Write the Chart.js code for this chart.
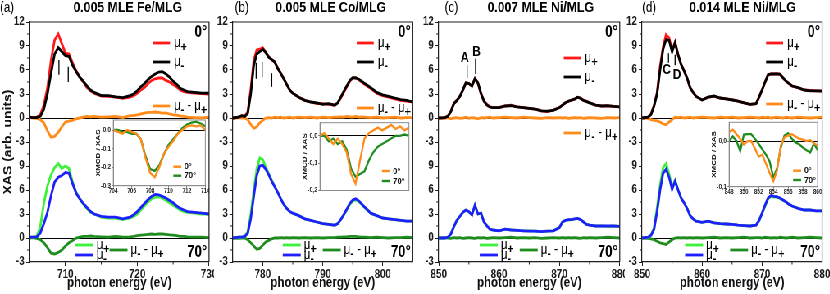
<!DOCTYPE html>
<html>
<head>
<meta charset="utf-8">
<script src="https://cdn.jsdelivr.net/npm/chart.js@4.4.0/dist/chart.umd.min.js"></script>
<style>
  html, body { margin: 0; padding: 0; background: #fff; width: 830px; height: 294px; overflow: hidden; }
  #wrap { position: absolute; left: 0; top: 0; height: 294px; transform-origin: 0 0; }
  #wrap canvas { position: absolute; }
</style>
</head>
<body>
<div id="wrap"></div>
<script>
// ---- data ----
const panelTags = ["(a)", "(b)", "(c)", "(d)"];
const panelTitles = ["0.005 MLE Fe/MLG", "0.005 MLE Co/MLG", "0.007 MLE Ni/MLG", "0.014 MLE Ni/MLG"];
const angleLabels = ["0°", "70°"];
const yTitle = "XAS (arb. units)";
const xTitle = "photon energy (eV)";
const insetTitle = "XMCD / XAS";

// (a) Fe L-edge
const eA = [705,705.5,706,706.5,707,707.5,708,708.5,709,709.5,710,710.5,711,711.5,712,712.5,713,713.5,714,
  715,716,717,718,719,
  719.5,720,720.5,721,721.5,722,722.5,723,723.5,724,724.5,725,725.5,726,726.5,727,
  728,729,730];
const aPlus0 = [0.1,0.05,0.1,0.4,1.6,3.8,7.2,9.75,10.5,9.3,8.1,8.0,6.9,5.9,5.1,4.5,3.8,3.4,3.1,
  2.75,2.7,2.6,2.45,2.6,
  2.8,3.1,3.5,3.8,4.3,4.7,4.9,5.0,5.0,4.7,4.5,4.2,3.9,3.5,3.3,3.2,
  3.1,3.05,3.0];
const aMinus0 = [0.1,0.05,0.05,0.2,1.1,3.0,5.6,8.0,8.8,8.3,7.8,7.7,6.6,5.8,5.1,4.6,4.0,3.5,3.2,
  2.8,2.8,2.65,2.55,2.8,
  3.0,3.4,3.9,4.3,4.8,5.2,5.5,5.75,5.8,5.5,5.1,4.6,4.2,3.7,3.5,3.3,
  3.2,3.1,3.1];
const aDiff0 = [0.05,0.0,-0.05,-0.2,-0.6,-1.6,-2.4,-2.3,-1.8,-1.1,-0.5,-0.4,-0.3,-0.1,0.0,0.1,0.2,0.15,0.2,
  0.1,0.15,0.2,0.05,0.3,
  0.3,0.4,0.5,0.6,0.7,0.7,0.75,0.7,0.6,0.65,0.5,0.4,0.35,0.25,0.2,0.1,
  0.05,0.0,0.1];
const aPlus70 = [0.1,0.1,0.2,1.4,4.3,6.5,7.9,8.8,9.3,8.7,9.0,8.7,7.0,5.7,4.9,4.2,3.7,3.2,3.0,
  2.6,2.5,2.5,2.3,2.5,
  2.7,3.0,3.5,4.0,4.5,4.9,5.1,5.15,5.0,4.7,4.4,4.1,3.8,3.5,3.3,3.2,
  3.1,3.0,3.0];
const aMinus70 = [0.1,0.1,0.15,0.6,1.8,3.2,5.3,7.0,7.6,7.8,8.2,8.1,6.8,5.6,4.9,4.3,3.8,3.3,3.0,
  2.7,2.6,2.6,2.4,2.6,
  2.9,3.3,3.8,4.3,4.8,5.2,5.45,5.4,5.2,5.0,4.7,4.4,4.0,3.7,3.5,3.3,
  3.2,3.1,3.0];
const aDiff70 = [0.0,0.05,-0.05,-0.2,-0.6,-1.2,-1.9,-2.0,-1.8,-1.5,-1.0,-0.6,-0.3,0.0,0.1,0.2,0.2,0.25,0.2,
  0.15,0.1,0.2,0.1,0.15,
  0.2,0.3,0.35,0.4,0.45,0.5,0.45,0.5,0.5,0.45,0.4,0.35,0.3,0.2,0.2,0.15,
  0.1,0.1,0.05];
const markEA = [709.1, 710.4], markHiA = [7.25, 6.4], markLoA = [5.4, 4.5];

// (b) Co L-edge
const eB = [775,776,
  776.5,777,777.5,778,778.5,779,779.5,780,780.5,781,781.5,782,782.5,783,783.5,784,784.5,785,
  786,787,788,789,790,791,792,
  792.5,793,793.5,794,794.5,795,795.5,796,796.5,797,
  798,799,800,801,802,803,804,805];
const bPlus0 = [0.0,0.1,
  0.3,0.2,0.8,3.6,7.2,8.5,8.6,8.8,8.2,7.6,7.3,7.0,6.2,5.6,4.9,4.2,3.5,3.1,
  2.6,2.2,2.0,1.8,1.8,1.7,1.6,
  1.9,2.5,3.2,3.9,4.6,5.0,5.05,4.8,4.5,4.2,
  3.7,3.1,2.8,2.6,2.4,2.2,2.1,2.0];
const bMinus0 = [0.0,0.1,
  0.3,0.2,0.6,3.0,6.6,8.0,8.3,8.6,8.2,7.6,7.3,7.0,6.2,5.6,4.9,4.2,3.5,3.1,
  2.6,2.2,2.0,1.9,1.7,1.8,1.6,
  1.9,2.6,3.3,4.0,4.7,5.05,5.0,4.85,4.6,4.3,
  3.8,3.2,2.9,2.7,2.5,2.3,2.2,2.0];
const bDiff0 = [-0.05,0.05,
  0.0,0.0,-0.2,-0.8,-1.3,-1.1,-0.6,-0.3,0.0,0.05,0.0,0.1,0.05,0.1,0.0,0.05,0.1,0.0,
  0.1,0.05,0.1,0.0,0.1,0.05,0.1,
  0.1,0.15,0.1,0.2,0.15,0.1,0.2,0.1,0.15,0.1,
  0.05,0.1,0.0,0.05,0.1,0.0,0.05,0.05];
const bPlus70 = [0.0,0.1,
  0.1,0.2,0.8,3.0,6.0,8.6,10.0,9.8,8.9,8.0,7.2,6.4,5.7,4.9,4.2,3.7,3.3,3.1,
  2.8,2.4,2.2,2.0,1.8,1.7,1.6,
  1.8,2.3,2.9,3.5,4.2,4.6,4.75,4.6,4.2,3.8,
  3.1,2.8,2.5,2.4,2.3,2.2,2.1,2.1];
const bMinus70 = [0.0,0.1,
  0.1,0.2,0.6,2.4,5.2,7.8,9.0,9.1,8.6,7.9,7.1,6.4,5.7,4.9,4.2,3.7,3.3,3.1,
  2.8,2.4,2.2,2.0,1.8,1.7,1.6,
  1.8,2.3,2.9,3.6,4.3,4.75,4.9,4.65,4.25,3.85,
  3.1,2.8,2.5,2.4,2.3,2.2,2.1,2.1];
const bDiff70 = [0.0,-0.05,
  0.0,0.0,-0.2,-0.6,-1.0,-1.4,-1.3,-0.9,-0.5,-0.3,-0.1,0.0,0.0,0.05,0.0,0.05,0.0,0.05,
  0.0,0.05,0.0,0.05,0.0,0.05,0.05,
  0.1,0.1,0.15,0.15,0.2,0.2,0.2,0.15,0.1,0.1,
  0.05,0.1,0.05,0.0,0.05,0.05,0.1,0.05];
const markEB = [778.9, 779.9, 781.5], markHiB = [6.9, 7.0, 5.6], markLoB = [4.9, 5.1, 3.9];

// (c) Ni L-edge, 0.007 MLE
const eC = [850,
  851,851.5,852,852.5,853,853.5,854,854.5,855,855.5,856,856.5,857,857.5,858,858.5,859,
  860,861,862,863,864,865,866,867,868,869,870,
  870.5,871,871.5,872,872.5,873,873.5,874,874.5,875,
  876,877,878,879,880];
const cPlus0 = [0.0,
  0.05,0.2,0.8,1.8,2.2,2.7,3.5,4.4,4.3,4.0,4.95,4.3,3.0,2.1,1.7,1.4,1.3,
  1.3,1.5,1.6,1.4,1.3,1.2,1.1,0.9,0.8,1.0,1.3,
  1.6,1.9,2.1,2.2,2.35,2.6,2.5,2.2,2.1,1.9,
  1.6,1.5,1.5,1.45,1.4];
const cMinus0 = [0.0,
  0.05,0.2,0.8,1.8,2.2,2.7,3.5,4.4,4.3,4.0,4.9,4.4,3.1,2.1,1.6,1.35,1.3,
  1.3,1.5,1.55,1.4,1.3,1.2,1.1,0.9,0.85,0.95,1.3,
  1.6,1.9,2.1,2.25,2.35,2.6,2.45,2.2,2.05,1.9,
  1.6,1.5,1.55,1.45,1.4];
const cDiff0 = [0.0,
  -0.05,0.05,-0.1,0.0,0.05,-0.05,0.0,0.1,-0.05,0.05,0.0,-0.1,0.05,0.0,0.05,0.1,0.0,
  0.05,0.1,0.05,0.0,0.1,0.05,0.0,-0.05,0.05,0.0,0.05,
  0.0,0.05,-0.05,0.0,0.05,0.0,0.05,-0.05,0.0,0.05,
  0.0,-0.05,0.05,0.0,0.05];
const cPlus70 = [0.0,
  0.0,0.1,0.5,1.4,2.2,2.7,3.2,3.5,3.3,2.9,4.1,3.0,3.1,2.0,1.5,1.1,1.0,
  0.9,1.1,1.0,0.95,0.9,0.9,0.85,0.8,0.85,0.9,1.3,
  2.0,2.2,2.25,2.3,2.35,2.45,2.3,2.0,1.7,1.6,
  1.5,1.5,1.45,1.5,1.45];
const cMinus70 = [0.0,
  0.0,0.1,0.5,1.4,2.2,2.7,3.2,3.5,3.3,2.9,4.1,3.0,3.1,2.0,1.5,1.1,1.0,
  0.9,1.1,1.0,0.95,0.9,0.85,0.85,0.8,0.85,0.9,1.3,
  2.0,2.2,2.3,2.3,2.4,2.45,2.3,2.0,1.7,1.6,
  1.5,1.5,1.5,1.5,1.45];
const cDiff70 = [0.0,
  0.05,0.0,-0.05,0.05,0.0,0.05,-0.05,0.0,0.05,0.0,-0.05,0.05,0.0,0.05,-0.05,0.0,0.05,
  0.0,0.05,0.1,0.0,0.05,0.0,0.05,-0.05,0.0,0.05,0.0,
  0.05,0.0,0.05,0.0,0.05,0.0,-0.05,0.05,0.0,0.05,
  0.0,0.05,0.1,0.05,0.0];
const markEC = [854.7, 856.1], markHiC = [6.6, 7.4], markLoC = [5.0, 5.5];
const letterC = ["A", "B"], letterEC = [854.3, 856.25], letterVC = [7.5, 8.25];

// (d) Ni L-edge, 0.014 MLE
const eD = [850,
  851,851.5,852,852.5,853,853.5,854,854.5,855,855.5,856,856.5,857,857.5,858,858.5,859,
  860,861,862,863,864,865,866,867,868,869,
  869.5,870,870.5,871,871.5,872,872.5,873,873.5,874,874.5,875,
  876,877,878,879,880];
const dPlus0 = [0.0,
  0.1,0.5,1.6,3.2,6.4,8.9,10.4,10.0,8.5,9.5,7.9,6.7,5.9,5.0,3.8,3.2,2.7,
  2.25,2.6,2.7,2.5,2.4,2.3,2.1,1.9,1.7,1.8,
  2.6,3.5,4.5,5.4,5.5,5.5,5.55,5.5,5.0,4.6,4.3,4.0,
  3.8,3.5,3.45,3.4,3.4];
const dMinus0 = [0.0,
  0.1,0.45,1.5,3.0,6.0,8.6,9.8,9.7,8.3,9.4,7.9,6.7,5.9,5.0,3.8,3.2,2.7,
  2.25,2.6,2.75,2.5,2.4,2.25,2.1,1.9,1.7,1.8,
  2.6,3.5,4.5,5.4,5.5,5.5,5.5,5.45,5.0,4.6,4.3,4.0,
  3.8,3.5,3.4,3.4,3.35];
const dDiff0 = [0.0,
  -0.05,-0.2,-0.3,-0.35,-0.5,-0.75,-0.85,-0.5,-0.2,0.1,0.05,0.1,0.0,0.05,0.1,0.0,0.05,
  0.1,0.05,0.0,0.1,0.05,0.1,0.0,0.05,0.1,0.05,
  0.0,0.1,0.05,0.1,0.0,0.05,0.1,0.05,0.0,0.1,0.05,0.0,
  0.1,0.05,0.0,0.05,0.1];
const dPlus70 = [0.0,
  0.1,0.4,1.3,3.8,6.6,8.8,9.3,8.0,6.3,7.2,6.0,5.0,4.4,3.7,2.8,2.4,2.1,
  1.95,2.1,1.9,1.8,1.75,1.7,1.6,1.55,1.5,1.6,
  2.2,3.1,4.0,4.9,5.2,5.1,5.15,4.9,4.7,4.5,4.2,4.0,
  3.7,3.5,3.5,3.4,3.4];
const dMinus70 = [0.0,
  0.1,0.35,1.1,3.3,6.0,8.1,8.6,7.6,6.1,7.1,6.0,5.0,4.4,3.7,2.8,2.4,2.1,
  1.95,2.1,1.9,1.8,1.75,1.7,1.6,1.55,1.5,1.6,
  2.2,3.1,4.1,5.0,5.3,5.2,5.15,5.0,4.75,4.5,4.2,4.0,
  3.7,3.5,3.5,3.4,3.4];
const dDiff70 = [0.0,
  -0.05,-0.1,-0.2,-0.4,-0.6,-0.7,-0.8,-0.5,-0.2,0.0,0.05,0.0,0.05,0.0,0.05,0.0,0.05,
  0.0,0.05,0.1,0.0,0.05,0.0,0.05,0.1,0.0,0.05,
  0.05,0.0,0.1,0.05,0.0,0.05,0.0,0.1,0.05,0.0,0.05,0.1,
  0.0,0.05,0.1,0.05,0.0];
const markED = [854.4, 855.5], markHiD = [8.1, 7.9], markLoD = [6.9, 6.6];
const letterD = ["C", "D"], letterED = [854.1, 855.8], letterVD = [6.0, 5.4];

// insets: XMCD / XAS at 0° and 70°
const insAE = [704,704.5,705,705.5,706,706.5,707,707.5,708,708.5,709,709.5,710,710.5,711,711.5,712,712.5,713,713.5,714];
const insA0 = [0.0,-0.01,-0.02,0.0,-0.01,-0.02,-0.05,-0.15,-0.23,-0.255,-0.2,-0.13,-0.09,-0.06,-0.02,0.0,0.02,0.025,0.02,0.025,0.0];
const insA70 = [0.0,0.0,-0.01,-0.01,-0.02,-0.02,-0.05,-0.14,-0.21,-0.22,-0.19,-0.13,-0.08,-0.05,-0.02,0.01,0.03,0.04,0.045,0.035,0.02];
const insBE = [775,775.5,776,776.5,777,777.5,778,778.5,779,779.5,780,780.5,781,781.5,782,782.5,783,783.5,784,784.5,785];
const insB0 = [0.0,0.01,-0.01,-0.03,-0.01,-0.03,-0.06,-0.14,-0.175,-0.09,-0.01,0.01,0.02,0.03,0.02,0.03,0.04,0.025,0.035,0.02,0.03];
const insB70 = [0.0,0.0,-0.02,-0.01,-0.03,-0.02,-0.05,-0.12,-0.15,-0.14,-0.13,-0.09,-0.06,-0.04,-0.03,-0.02,-0.01,0.0,0.0,0.005,0.0];
const insDE = [848,848.5,849,849.5,850,850.5,851,851.5,852,852.5,853,853.5,854,854.5,855,855.5,856,856.5,857,857.5,858,858.5,859,859.5,860];
const insD0 = [0.02,0.025,0.015,0.005,-0.008,0.0,0.0,-0.016,-0.034,-0.03,-0.05,-0.07,-0.088,-0.065,-0.01,0.008,0.012,0.015,0.01,0.005,0.003,0.0,0.002,-0.005,-0.01];
const insD70 = [0.0,0.01,0.0,-0.022,0.014,0.015,0.015,0.005,-0.006,-0.018,-0.03,-0.045,-0.08,-0.06,-0.015,0.012,0.017,0.005,-0.003,-0.007,-0.014,-0.02,-0.025,-0.005,-0.02];

// ---- look ----
const SX = 0.82;                 // the original figure is horizontally condensed
const u = v => v / SX;           // page px -> canvas px
const FONT = '"Liberation Sans", Arial, Helvetica, sans-serif';
const AXIS = "#1e1e1e";
const RED = "#ff1a1a", BLACK = "#000000", ORANGE = "#ff8c1a";
const LIME = "#3cf03c", BLUE = "#1e1eff", DKGREEN = "#1f8c1f";
const BOT = -15;                 // offset of the 70° block on the shared y axis
const LW = 2.8;

const MU_PLUS = [["μ", 0], ["+", 1]];
const MU_MINUS = [["μ", 0], ["-", 1]];
const MU_DIFF = [["μ", 0], ["-", 1], [" - ", 0], ["μ", 0], ["+", 1]];

Chart.defaults.font.family = FONT;
Chart.defaults.color = "#111";

const wrap = document.getElementById("wrap");
wrap.style.width = u(830) + "px";
wrap.style.transform = `scaleX(${SX})`;

function addCanvas(left, top, w, h) {
  const c = document.createElement("canvas");
  c.width = w; c.height = h;
  c.style.left = left + "px"; c.style.top = top + "px";
  c.style.width = w + "px"; c.style.height = h + "px";
  wrap.appendChild(c);
  return c;
}

function series(E, v, off, color, order, w) {
  return {
    data: E.map((e, i) => ({ x: e, y: v[i] + off })),
    borderColor: color, borderWidth: w, pointRadius: 0,
    fill: false, tension: 0, order
  };
}

function muText(ctx, x, y, parts, size) {
  let cx = x;
  parts.forEach(([t, sub]) => {
    ctx.font = sub ? `bold ${size - 1}px ${FONT}` : `${size}px ${FONT}`;
    ctx.fillText(t, cx, y + (sub ? size * 0.3 : 0));
    cx += ctx.measureText(t).width;
  });
}

const panelDeco = {
  id: "panelDeco",
  afterDatasetsDraw(chart, args, o) {
    const { ctx, chartArea: a, scales: { x, y } } = chart;
    ctx.save();
    // top and right frame
    ctx.strokeStyle = AXIS; ctx.lineWidth = 1.2;
    ctx.beginPath();
    ctx.moveTo(a.left, a.top); ctx.lineTo(a.right, a.top); ctx.lineTo(a.right, a.bottom);
    ctx.stroke();
    // minor ticks
    ctx.lineWidth = 1;
    for (let v = y.min + 1.5; v < y.max; v += 3) {
      const py = y.getPixelForValue(v);
      ctx.beginPath(); ctx.moveTo(a.left - u(2.5), py); ctx.lineTo(a.left, py); ctx.stroke();
    }
    for (let v = Math.ceil(x.min / 10) * 10 - 5; v < x.max; v += 10) {
      if (v <= x.min) continue;
      const px = x.getPixelForValue(v);
      ctx.beginPath(); ctx.moveTo(px, a.bottom); ctx.lineTo(px, a.bottom + 2.5); ctx.stroke();
    }
    // peak markers
    ctx.strokeStyle = "#000"; ctx.lineWidth = 1.3;
    o.marks[0].forEach((e, i) => {
      const px = x.getPixelForValue(e);
      ctx.beginPath();
      ctx.moveTo(px, y.getPixelForValue(o.marks[1][i]));
      ctx.lineTo(px, y.getPixelForValue(o.marks[2][i]));
      ctx.stroke();
    });
    ctx.fillStyle = "#000"; ctx.textBaseline = "middle"; ctx.textAlign = "center";
    ctx.font = `bold 14px ${FONT}`;
    o.letters[0].forEach((t, i) => {
      ctx.fillText(t, x.getPixelForValue(o.letters[1][i]), y.getPixelForValue(o.letters[2][i]));
    });
    // titles
    ctx.textAlign = "left"; ctx.font = `14px ${FONT}`;
    ctx.fillText(o.tag, a.left + u(o.tagDx), 8);
    ctx.textAlign = "center"; ctx.font = `bold 15px ${FONT}`;
    ctx.fillText(o.title, (a.left + a.right) / 2 + u(o.titleDx), 8);
    ctx.textAlign = "right"; ctx.font = `bold 16px ${FONT}`;
    ctx.fillText(angleLabels[0], a.right - u(2), 33);
    ctx.fillText(angleLabels[1], a.right - u(2), 253);
    // legends
    ctx.textAlign = "left"; ctx.lineWidth = LW;
    const top = [[RED, MU_PLUS], [BLACK, MU_MINUS], [ORANGE, MU_DIFF]];
    top.forEach(([c, parts], i) => {
      const yy = o.legTop[i];
      ctx.strokeStyle = c;
      ctx.beginPath(); ctx.moveTo(a.right - u(56), yy); ctx.lineTo(a.right - u(39), yy); ctx.stroke();
      muText(ctx, a.right - u(35), yy, parts, 14);
    });
    const bot = [[LIME, MU_PLUS, o.legBot[0], 245], [BLUE, MU_MINUS, o.legBot[0], 255], [DKGREEN, MU_DIFF, o.legBot[1], 250]];
    bot.forEach(([c, parts, dx, yy]) => {
      ctx.strokeStyle = c;
      ctx.beginPath(); ctx.moveTo(a.left + u(dx), yy); ctx.lineTo(a.left + u(dx + 18), yy); ctx.stroke();
      muText(ctx, a.left + u(dx + 21), yy, parts, 14);
    });
    ctx.restore();
  }
};

function makePanel(p) {
  const w = Math.round(u(p.cr - p.cl));
  const yW = u(p.L - p.cl), plotW = u(p.R - p.L);
  const cv = addCanvas(u(p.cl), 0, w, 294);
  new Chart(cv, {
    type: "line",
    data: {
      datasets: [
        series(p.E, p.top[1], 0, BLACK, 1, LW),
        series(p.E, p.top[0], 0, RED, 2, LW),
        series(p.E, p.top[2], 0, ORANGE, 3, LW),
        series(p.E, p.bot[1], BOT, BLUE, 1, LW),
        series(p.E, p.bot[0], BOT, LIME, 2, LW),
        series(p.E, p.bot[2], BOT, DKGREEN, 3, LW)
      ]
    },
    options: {
      responsive: false, animation: false, devicePixelRatio: 1,
      layout: { padding: { top: 22, left: 0, bottom: 0, right: w - yW - plotW } },
      plugins: {
        legend: { display: false }, tooltip: { enabled: false },
        panelDeco: p.deco
      },
      scales: {
        x: {
          type: "linear", min: p.xMin, max: p.xMax,
          afterBuildTicks: s => { s.ticks = s.ticks.filter(t => t.value % 10 === 0); },
          afterFit: s => { s.height = 32; s.paddingLeft = 0; s.paddingRight = 0; },
          ticks: { font: { size: 12, weight: "bold" }, color: "#1a1a1a", padding: 1, maxRotation: 0, autoSkip: false },
          grid: { drawOnChartArea: false, tickLength: 4, color: AXIS },
          border: { display: true, color: AXIS, width: 1.2 },
          title: { display: true, text: xTitle, font: { size: 14, weight: "bold" }, color: "#111", padding: { top: 0, bottom: 2 } }
        },
        y: {
          type: "linear", min: -18, max: 12,
          afterBuildTicks: s => { s.ticks = s.ticks.filter(t => t.value % 3 === 0); },
          afterFit: s => { s.width = yW; s.paddingTop = 0; s.paddingBottom = 0; },
          ticks: {
            stepSize: 3, font: { size: 12, weight: "bold" }, color: "#1a1a1a", padding: 2,
            callback: v => String(v < -3 ? v - BOT : v)
          },
          grid: {
            tickLength: 4, lineWidth: 1, tickColor: AXIS,
            color: c => (c.tick && (c.tick.value === 0 || c.tick.value === BOT)) ? "#000" : "rgba(0,0,0,0)"
          },
          border: { display: true, color: AXIS, width: 1.2 },
          title: { display: !!p.yTitle, text: p.yTitle || "", font: { size: 14, weight: "bold" }, color: "#111", padding: { top: 1.5, bottom: 0 } }
        }
      }
    },
    plugins: [panelDeco]
  });
}

const insetDeco = {
  id: "insetDeco",
  beforeDraw(chart) {
    const { ctx, chartArea: a } = chart;
    ctx.save(); ctx.fillStyle = "#fff";
    ctx.fillRect(a.left, a.top, a.right - a.left, a.bottom - a.top);
    ctx.restore();
  },
  afterDatasetsDraw(chart, args, o) {
    const { ctx, chartArea: a } = chart;
    ctx.save();
    ctx.strokeStyle = "#8c8c8c"; ctx.lineWidth = 1;
    ctx.strokeRect(a.left, a.top, a.right - a.left, a.bottom - a.top);
    ctx.lineWidth = 2.4; ctx.textBaseline = "middle"; ctx.textAlign = "left";
    ctx.font = `bold 9.5px ${FONT}`; ctx.fillStyle = "#111";
    [[ORANGE, angleLabels[0], o.legY[0]], [DKGREEN, angleLabels[1], o.legY[1]]].forEach(([c, t, dy]) => {
      const yy = a.bottom - dy, x0 = a.right - u(o.legR);
      ctx.strokeStyle = c;
      ctx.beginPath(); ctx.moveTo(x0, yy); ctx.lineTo(x0 + u(8), yy); ctx.stroke();
      ctx.fillText(t, x0 + u(11), yy);
    });
    ctx.restore();
  }
};

function makeInset(s) {
  const [bl, bt, br, bb] = s.box;
  const cl = bl - 19, ct = Math.floor(bt - 4);
  const w = Math.round(u(br + 4 - cl)), h = Math.round(bb + 11 - ct);
  const yW = u(19), plotW = u(br - bl);
  const cv = addCanvas(u(cl), ct, w, h);
  new Chart(cv, {
    type: "line",
    data: {
      datasets: [
        series(s.E, s.v70, 0, DKGREEN, 2, 2.3),
        series(s.E, s.v0, 0, ORANGE, 1, 2.3)
      ]
    },
    options: {
      responsive: false, animation: false, devicePixelRatio: 1,
      layout: { padding: { top: bt - ct, left: 0, bottom: 0, right: w - yW - plotW } },
      plugins: { legend: { display: false }, tooltip: { enabled: false }, insetDeco: s.deco },
      scales: {
        x: {
          type: "linear", min: s.x[0], max: s.x[1],
          afterBuildTicks: sc => { sc.ticks = sc.ticks.filter(t => t.value % 2 === 0); },
          afterFit: sc => { sc.height = h - (bb - ct); sc.paddingLeft = 0; sc.paddingRight = 0; },
          ticks: { stepSize: 2, font: { size: 6.5, weight: "bold" }, color: "#222", padding: 0, maxRotation: 0, autoSkip: false },
          grid: { drawOnChartArea: false, tickLength: 2, color: "#777" },
          border: { display: true, color: "#8c8c8c", width: 1 }
        },
        y: {
          type: "linear", min: s.y[0], max: s.y[1],
          afterBuildTicks: sc => { sc.ticks = sc.ticks.filter(t => Math.abs(t.value * 10 - Math.round(t.value * 10)) < 1e-6); },
          afterFit: sc => { sc.width = yW; sc.paddingTop = 0; sc.paddingBottom = 0; },
          ticks: {
            stepSize: 0.1, font: { size: 7, weight: "bold" }, color: "#222", padding: 1,
            callback: v => v.toFixed(1).replace(".", ",")
          },
          grid: {
            tickLength: 2, tickColor: "#777", lineWidth: 1,
            color: c => (c.tick && Math.abs(c.tick.value) < 1e-9) ? "#000" : "rgba(0,0,0,0)"
          },
          border: { display: true, color: "#8c8c8c", width: 1 },
          title: { display: true, text: insetTitle, font: { size: 8, weight: "bold" }, color: "#111", padding: { top: 0, bottom: 0 } }
        }
      }
    },
    plugins: [insetDeco]
  });
}

makePanel({
  cl: 0, cr: 214, L: 29.5, R: 209, xMin: 705, xMax: 730, E: eA,
  top: [aPlus0, aMinus0, aDiff0], bot: [aPlus70, aMinus70, aDiff70], yTitle,
  deco: { tag: panelTags[0], tagDx: -29.5, title: panelTitles[0], titleDx: 8.5,
          legTop: [43, 62, 106], legBot: [46, 80],
          marks: [markEA, markHiA, markLoA], letters: [[], [], []] }
});
makePanel({
  cl: 211, cr: 418, L: 233, R: 413, xMin: 775, xMax: 805, E: eB,
  top: [bPlus0, bMinus0, bDiff0], bot: [bPlus70, bMinus70, bDiff70],
  deco: { tag: panelTags[1], tagDx: 2, title: panelTitles[1], titleDx: 8,
          legTop: [43, 62, 108], legBot: [50, 90],
          marks: [markEB, markHiB, markLoB], letters: [[], [], []] }
});
makePanel({
  cl: 416, cr: 625, L: 439, R: 620, xMin: 850, xMax: 880, E: eC,
  top: [cPlus0, cMinus0, cDiff0], bot: [cPlus70, cMinus70, cDiff70],
  deco: { tag: panelTags[2], tagDx: 6, title: panelTitles[2], titleDx: 11.5,
          legTop: [58, 77, 133], legBot: [41, 81],
          marks: [markEC, markHiC, markLoC], letters: [letterC, letterEC, letterVC] }
});
makePanel({
  cl: 619, cr: 830, L: 642, R: 822, xMin: 850, xMax: 880, E: eD,
  top: [dPlus0, dMinus0, dDiff0], bot: [dPlus70, dMinus70, dDiff70],
  deco: { tag: panelTags[3], tagDx: 0, title: panelTitles[3], titleDx: 10.5,
          legTop: [43, 62, 104], legBot: [43, 88],
          marks: [markED, markHiD, markLoD], letters: [letterD, letterED, letterVD] }
});

makeInset({ box: [113, 120, 205, 185.7], x: [704, 714], y: [-0.3, 0.054], E: insAE, v0: insA0, v70: insA70,
            deco: { legR: 32, legY: [19, 10] } });
makeInset({ box: [320, 122.7, 409, 190.5], x: [775, 785], y: [-0.2, 0.048], E: insBE, v0: insB0, v70: insB70,
            deco: { legR: 27, legY: [19.5, 9.5] } });
makeInset({ box: [729, 122.3, 817.5, 186.7], x: [848, 860], y: [-0.1, 0.041], E: insDE, v0: insD0, v70: insD70,
            deco: { legR: 24.5, legY: [16, 6.7] } });
</script>
</body>
</html>
